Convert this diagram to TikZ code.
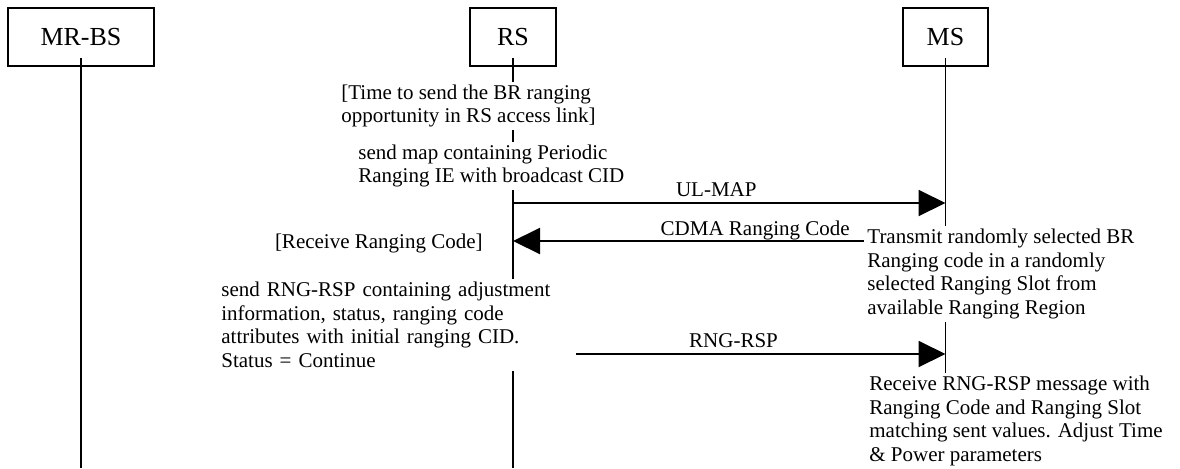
\documentclass[tikz,border=0pt]{standalone}
\usepackage{fontspec}
\setmainfont{Liberation Serif}
\usetikzlibrary{arrows.meta}

\begin{document}
\begin{tikzpicture}[
    x=0.5pt, y=-0.5pt,
    actor_style/.style={draw, line width=1pt, minimum height=29pt, font=\fontsize{13}{15}\selectfont},
    lifeline_style/.style={line width=0.8pt},
    msg_style/.style={line width=1pt, -{Triangle[length=13.5pt,width=13pt]}},
    label_style/.style={font=\fontsize{10.5}{11.75}\selectfont, inner sep=1pt},
    note_style/.style={fill=white, align=left, inner sep=1.5pt, font=\fontsize{10.5}{11.75}\selectfont}
  ]
  \useasboundingbox (0,0) rectangle (1180,468);

  % Coordinates
  \coordinate (bot) at (0,468);
  \coordinate (m1) at (0,203);
  \coordinate (m2) at (0,241);
  \coordinate (m3) at (0,354);

  % Actors
  \node[actor_style, minimum width=73pt] (mrbs) at (81,37) {MR-BS};
  \node[actor_style, minimum width=43pt] (rs) at (513,37) {RS};
  \node[actor_style, minimum width=42.5pt] (ms) at (945.5,37) {MS};

  % Lifelines
  \foreach \a in {mrbs, rs, ms}
    \draw[lifeline_style] ([yshift=4.5pt]\a.south) -- (\a.south |- bot);

  % Messages
  \draw[msg_style] (rs |- m1) -- (ms |- m1) node[label_style, pos=0.47, above=1.5pt] {UL-MAP};
  \draw[msg_style] (ms |- m2) -- (rs |- m2) node[label_style, pos=0.44, above, inner sep=0pt] {CDMA Ranging Code};
  \draw[msg_style] (rs |- m3) -- (ms |- m3) node[label_style, pos=0.51, above=1.5pt] {RNG-RSP};

  % Notes
  \node[note_style, anchor=west] (t_br) at (338,106) {[Time to send the BR ranging\\opportunity in RS access link]};
  \node[note_style, anchor=west] (t_map) at (355,166) {send map containing Periodic\\Ranging IE with broadcast CID};
  \node[note_style, anchor=east] (t_rcv) at (486,243) {[Receive Ranging Code]};
  \node[note_style, anchor=west, text width=176pt] (t_rsp) at (218,325) {send RNG-RSP containing adjustment\\information, status, ranging code\\attributes with initial ranging CID.\\Status = Continue};
  \node[note_style, anchor=west] (t_tx) at (864,274) {Transmit randomly selected BR\\Ranging code in a randomly\\selected Ranging Slot from\\available Ranging Region};
  \node[note_style, anchor=west] (t_adj) at (866,421) {Receive RNG-RSP message with\\Ranging Code and Ranging Slot\\matching sent values. Adjust Time\\\& Power parameters};
\end{tikzpicture}
\end{document}
